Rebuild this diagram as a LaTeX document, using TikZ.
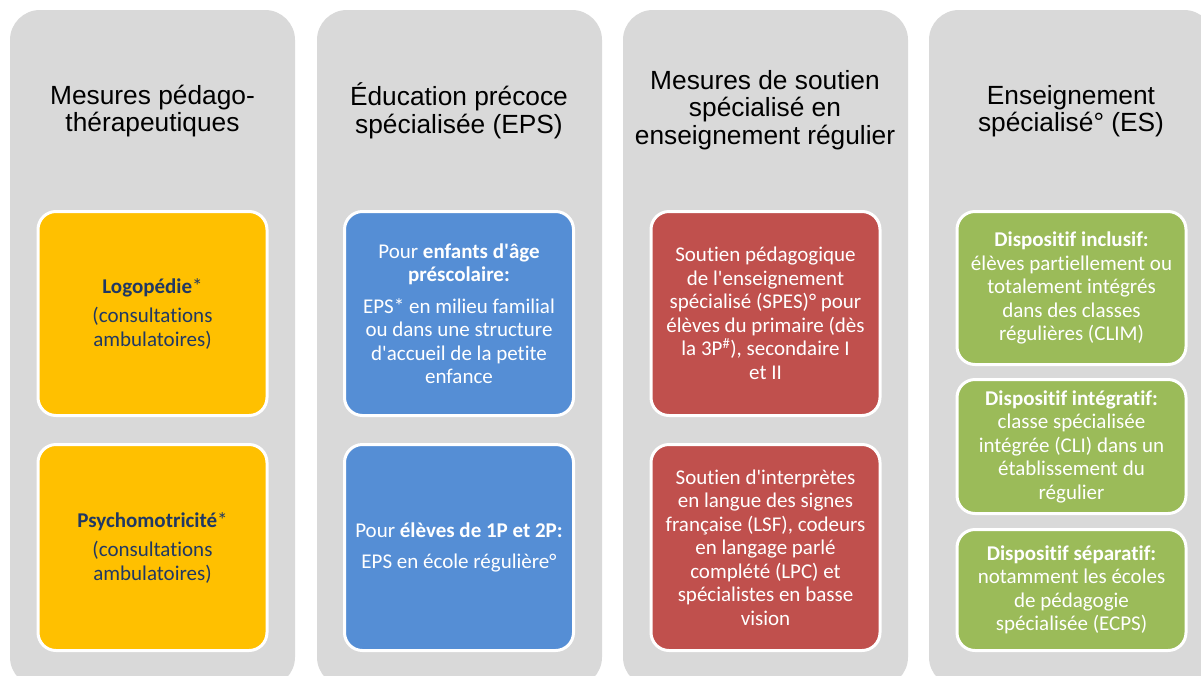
\documentclass[tikz,border=0pt]{standalone}
\usepackage{fontspec}
\setmainfont{Carlito}[Ligatures={NoCommon}]
\newfontfamily\headfont{Liberation Sans}

\definecolor{colgrey}{HTML}{D9D9D9}
\definecolor{amber}{HTML}{FFC000}
\definecolor{skyblue}{HTML}{558ED5}
\definecolor{brick}{HTML}{C0504D}
\definecolor{olive}{HTML}{9BBB59}
\definecolor{navy}{HTML}{203864}

\newcommand{\ap}{\textquotesingle}

\begin{document}
\begin{tikzpicture}[x=1pt, y=-1pt,
    column/.style={fill=colgrey, rounded corners=30pt},
    head/.style={font=\headfont\fontsize{26.3}{27.5}\selectfont, align=center, text=black},
    box/.style={draw=white, line width=3pt, rounded corners=18pt, inner sep=0pt, align=center,
                text=white, font=\fontsize{21}{23.5}\selectfont, minimum width=229pt},
    yellowbox/.style={box, fill=amber, text=navy},
    bluebox/.style={box, fill=skyblue},
    redbox/.style={box, fill=brick},
    greenbox/.style={box, fill=olive}]

    \clip (0,0) rectangle (1201,675);
    \fill[white] (0,0) rectangle (1201,675);

    % the four grey columns
    \foreach \x in {10,317,623,929}
        \fill[column] (\x,10) rectangle ++(285,677);

    % headings
    \node[head] (h1) at (152.5,111) {Mesures pédago-\\thérapeutiques};
    \node[head] (h2) at (459,111) {Éducation précoce\\spécialisée (EPS)};
    \node[head] (h3) at (765,110) {Mesures de soutien\\spécialisé en\\enseignement régulier};
    \node[head] (h4) at (1071,111) {Enseignement\\spécialisé° (ES)};

    % pedago-therapeutic measures
    \node[yellowbox, minimum height=204pt] (logo) at (152.5,313.5)
        {\textbf{Logopédie}*\\[6pt](consultations\\ambulatoires)};
    \node[yellowbox, minimum height=206pt] (psy) at (152.5,547.5)
        {\textbf{Psychomotricité}*\\[6pt](consultations\\ambulatoires)};

    % early education
    \node[bluebox, minimum height=204pt] (presco) at (459,313.5)
        {Pour \textbf{enfants d\ap âge}\\\textbf{préscolaire:}\\[8pt]EPS* en milieu familial\\ou dans une structure\\d\ap accueil de la petite\\enfance};
    \node[bluebox, minimum height=206pt] (ecole) at (459,547.5)
        {Pour \textbf{élèves de 1P et 2P:}\\[8pt]EPS en école régulière°};

    % support in regular schools
    \node[redbox, minimum height=204pt] (spes) at (765.5,313.5)
        {Soutien pédagogique\\de l\ap enseignement\\spécialisé (SPES)° pour\\élèves du primaire (dès\\la 3P\textsuperscript{\#}), secondaire I\\et II};
    \node[redbox, minimum height=206pt] (lsf) at (765.5,547.5)
        {Soutien d\ap interprètes\\en langue des signes\\française (LSF), codeurs\\en langage parlé\\complété (LPC) et\\spécialistes en basse\\vision};

    % special education
    \node[greenbox, minimum height=153pt] (incl) at (1071.5,288)
        {\textbf{Dispositif inclusif:}\\élèves partiellement ou\\totalement intégrés\\dans des classes\\régulières (CLIM)};
    \node[greenbox, minimum height=134pt] (integ) at (1071.5,446.5)
        {\textbf{Dispositif intégratif:}\\classe spécialisée\\intégrée (CLI) dans un\\établissement du\\régulier};
    \node[greenbox, minimum height=121pt] (separ) at (1071.5,590)
        {\textbf{Dispositif séparatif:}\\notamment les écoles\\de pédagogie\\spécialisée (ECPS)};
\end{tikzpicture}
\end{document}
